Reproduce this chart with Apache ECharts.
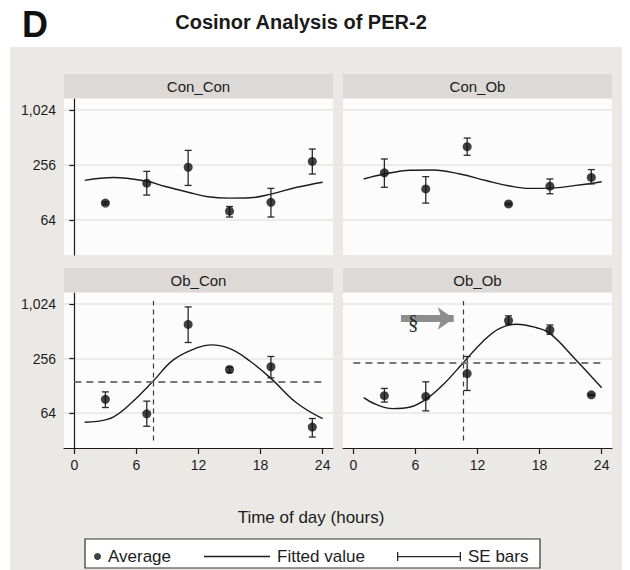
<!DOCTYPE html>
<html>
<head>
<meta charset="utf-8">
<title>Cosinor Analysis of PER-2</title>
<script src="https://cdn.jsdelivr.net/npm/echarts@6/dist/echarts.min.js"></script>
<style>
  html, body { margin: 0; padding: 0; background: #fff; }
  #chart { width: 630px; height: 570px; }
</style>
</head>
<body>
<div id="chart"></div>
<script>
// sampling times (hours) and axis ticks
const hours = [3, 7, 11, 15, 19, 23];
const xTicks = [0, 6, 12, 18, 24];
const yTicks = [64, 256, 1024];

// Con_Con
const conConAvg = [98, 162, 242, 80, 100, 280];
const conConLo = [95, 120, 153, 69, 69, 204];
const conConHi = [101, 218, 370, 90, 142, 383];
const conConFitX = [1, 3.8, 7, 8.7, 11, 12.9, 15, 17, 19, 21.5, 24];
const conConFitY = [174, 187, 170, 150, 129, 115, 111, 112, 123, 146, 166];

// Con_Ob
const conObAvg = [210, 140, 406, 96, 150, 187];
const conObLo = [146, 98, 327, 94, 124, 159];
const conObHi = [298, 191, 505, 98, 180, 228];
const conObFitX = [1, 3, 5.5, 7.7, 10.3, 12.9, 15.1, 17, 19, 21.5, 24];
const conObFitY = [180, 204, 224, 226, 204, 172, 151, 142, 143, 153, 168];

// Ob_Con
const obConAvg = [91, 63, 609, 194, 208, 45];
const obConLo = [74, 46, 385, 180, 157, 35];
const obConHi = [110, 87, 949, 205, 270, 56];
const obConFitX = [1, 2.2, 3.8, 5.5, 7.6, 9.6, 11.9, 13.2, 15.1, 17, 19, 21.5, 24];
const obConFitY = [51, 52, 58.5, 83, 144, 249, 338, 362, 328, 239, 155, 83, 55.7];
const obConMesor = 144;
const obConCross = 7.6;

// Ob_Ob
const obObAvg = [100, 98, 175, 671, 529, 102];
const obObLo = [85, 68, 114, 609, 474, 100];
const obObHi = [120, 142, 270, 757, 600, 104];
const obObFitX = [1, 2.2, 3.8, 5.5, 7, 8.7, 10.6, 12.5, 14.1, 15.8, 17.7, 19, 21.5, 24];
const obObFitY = [95, 80, 72, 75, 91, 133, 229, 393, 548, 612, 560, 485, 249, 122];
const obObMesor = 229;
const obObCross = 10.6;
const arrowX = [4.6, 9.7];
const arrowY = 708;

const FONT = '"Liberation Sans", Arial, sans-serif';
const INK = '#1c1c1c';

const panels = [
  { name: 'Con_Con', avg: conConAvg, lo: conConLo, hi: conConHi, fx: conConFitX, fy: conConFitY, left: 64, top: 99, h: 156, yAx: true, xAx: false },
  { name: 'Con_Ob', avg: conObAvg, lo: conObLo, hi: conObHi, fx: conObFitX, fy: conObFitY, left: 343, top: 99, h: 156, yAx: false, xAx: false },
  { name: 'Ob_Con', avg: obConAvg, lo: obConLo, hi: obConHi, fx: obConFitX, fy: obConFitY, left: 64, top: 293, h: 155, yAx: true, xAx: true, mesor: obConMesor, cross: obConCross },
  { name: 'Ob_Ob', avg: obObAvg, lo: obObLo, hi: obObHi, fx: obObFitX, fy: obObFitY, left: 343, top: 293, h: 155, yAx: false, xAx: true, mesor: obObMesor, cross: obObCross, arrow: true }
];
const panelW = 269;

function seBars (params, api) {
  const x = api.value(0);
  const lo = api.coord([x, api.value(1)]);
  const hi = api.coord([x, api.value(2)]);
  const w = 3.5;
  const st = { stroke: '#2a2a2a', lineWidth: 1.3 };
  return {
    type: 'group',
    children: [
      { type: 'line', shape: { x1: hi[0], y1: hi[1], x2: lo[0], y2: lo[1] }, style: st },
      { type: 'line', shape: { x1: hi[0] - w, y1: hi[1], x2: hi[0] + w, y2: hi[1] }, style: st },
      { type: 'line', shape: { x1: lo[0] - w, y1: lo[1], x2: lo[0] + w, y2: lo[1] }, style: st }
    ]
  };
}

const grids = [], xAxes = [], yAxes = [], series = [];
const graphics = [
  { type: 'rect', z: -100, shape: { x: 10, y: 47, width: 612, height: 530 }, style: { fill: '#ebe9e6' } },
  { type: 'rect', z: 1, shape: { x: 85, y: 539, width: 455, height: 29 }, style: { fill: '#ffffff', stroke: '#333', lineWidth: 1.2 } },
  { type: 'text', x: 22, y: 24, style: { text: 'D', fontSize: 36, fontWeight: 'bold', fontFamily: FONT, fill: '#111', verticalAlign: 'middle' } },
  { type: 'text', x: 301, y: 22, style: { text: 'Cosinor Analysis of PER-2', fontSize: 20, fontWeight: 'bold', fontFamily: FONT, fill: '#1a1a1a', align: 'center', verticalAlign: 'middle' } },
  { type: 'text', x: 311, y: 517, style: { text: 'Time of day (hours)', fontSize: 17, fontFamily: FONT, fill: INK, align: 'center', verticalAlign: 'middle' } }
];

panels.forEach((p, i) => {
  grids.push({ left: p.left, top: p.top, width: panelW, height: p.h, show: true, backgroundColor: '#fcfcfc', borderWidth: 0 });
  graphics.push({ type: 'rect', z: -50, shape: { x: p.left, y: p.top - 25, width: panelW, height: 24 }, style: { fill: '#dcd9d6' } });
  graphics.push({ type: 'text', x: p.left + panelW / 2, y: p.top - 13, style: { text: p.name, fontSize: 15, fontFamily: FONT, fill: INK, align: 'center', verticalAlign: 'middle' } });

  xAxes.push({
    type: 'value', gridIndex: i, min: -1, max: 25, show: p.xAx,
    axisLine: { show: p.xAx, onZero: false, lineStyle: { color: INK, width: 1.2 } },
    axisTick: { show: p.xAx, length: 6, customValues: xTicks, lineStyle: { color: INK, width: 1.2 } },
    axisLabel: { show: p.xAx, customValues: xTicks, fontSize: 14, fontFamily: FONT, color: INK, margin: 10 },
    splitLine: { show: false }
  });
  yAxes.push({
    type: 'log', logBase: 2, gridIndex: i, min: 26.5, max: 1351,
    axisLine: { show: p.yAx, lineStyle: { color: INK, width: 1.2 } },
    axisTick: { show: p.yAx, length: 5, customValues: yTicks, lineStyle: { color: INK, width: 1.2 } },
    axisLabel: { show: p.yAx, customValues: yTicks, fontSize: 14, fontFamily: FONT, color: INK, margin: 8,
      formatter: v => Math.round(v).toLocaleString('en-US') },
    splitLine: { show: true, lineStyle: { color: '#e8e6e3', width: 1.5 } }
  });

  const fit = {
    name: 'Fitted value', type: 'line', xAxisIndex: i, yAxisIndex: i, z: 3,
    data: p.fx.map((x, k) => [x, p.fy[k]]),
    smooth: 0.4, showSymbol: false, color: INK,
    lineStyle: { color: INK, width: 1.4 }
  };
  if (p.mesor != null) {
    const lines = [
      [{ coord: [0, p.mesor], lineStyle: { type: [7, 5], color: '#777', width: 1.8 } }, { coord: [24, p.mesor] }],
      [{ coord: [p.cross, 32], lineStyle: { type: [5, 4], color: '#3a3a3a', width: 1.2 } }, { coord: [p.cross, 1100] }]
    ];
    if (p.arrow) {
      lines.push([
        { coord: [arrowX[0], arrowY], symbol: 'none', lineStyle: { type: 'solid', color: '#8e8e8e', width: 7 } },
        { coord: [arrowX[1], arrowY], symbol: 'arrow', symbolSize: [17, 16] }
      ]);
    }
    fit.markLine = { silent: true, symbol: 'none', animation: false, label: { show: false }, data: lines };
  }
  if (p.arrow) {
    fit.markPoint = {
      silent: true, animation: false,
      data: [{ coord: [5.8, 650], symbol: 'circle', symbolSize: 1, itemStyle: { color: 'rgba(0,0,0,0)' },
        label: { show: true, position: 'inside', formatter: '§', fontSize: 21, fontFamily: '"Liberation Serif", serif', color: '#2a2a2a' } }]
    };
  }
  series.push(fit);
  series.push({
    name: 'SE bars', type: 'custom', xAxisIndex: i, yAxisIndex: i, z: 4,
    itemStyle: { color: '#2a2a2a' },
    renderItem: seBars,
    encode: { x: 0, y: [1, 2] },
    data: hours.map((h, k) => [h, p.lo[k], p.hi[k]])
  });
  series.push({
    name: 'Average', type: 'scatter', xAxisIndex: i, yAxisIndex: i, z: 5,
    symbolSize: 9, itemStyle: { color: '#111' },
    data: hours.map((h, k) => [h, p.avg[k]])
  });
});

const legendText = { fontSize: 17, fontFamily: FONT, color: INK, padding: [0, 0, 0, 2] };
const option = {
  animation: false,
  backgroundColor: '#ffffff',
  grid: grids,
  xAxis: xAxes,
  yAxis: yAxes,
  legend: [
    { left: 89, top: 543, itemWidth: 7, itemHeight: 7, selectedMode: false, textStyle: legendText,
      data: [{ name: 'Average', icon: 'circle' }] },
    { left: 199, top: 543, itemWidth: 66, itemHeight: 1.4, selectedMode: false, textStyle: legendText,
      itemStyle: { borderWidth: 0 }, data: [{ name: 'Fitted value', icon: 'rect' }] },
    { left: 392, top: 543, itemWidth: 64, itemHeight: 9, selectedMode: false, textStyle: legendText,
      itemStyle: { borderWidth: 0 },
      data: [{ name: 'SE bars', icon: 'path://M0,0h1.3v9h-1.3z M0,3.9h64v1.3h-64z M62.7,0h1.3v9h-1.3z' }] }
  ],
  graphic: graphics,
  series: series
};

const chart = echarts.init(document.getElementById('chart'), null, { renderer: 'svg' });
chart.setOption(option);
</script>
</body>
</html>
